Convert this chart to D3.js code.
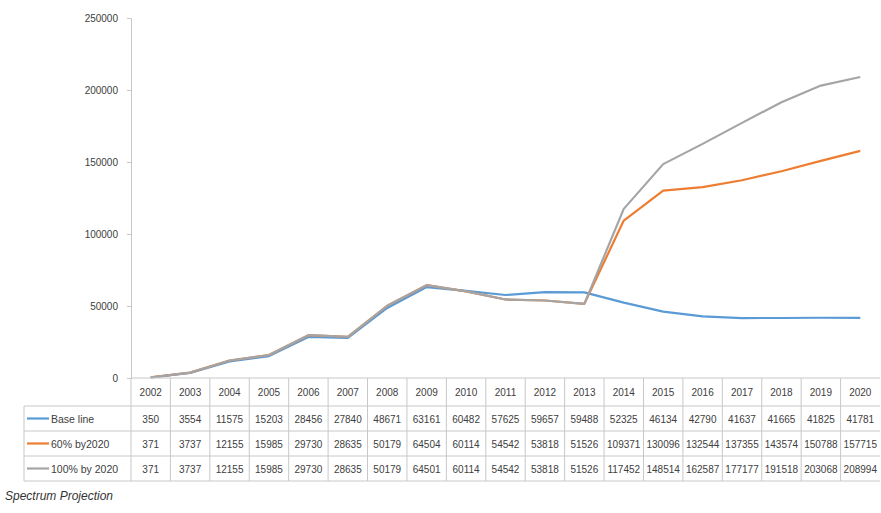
<!DOCTYPE html>
<html>
<head>
<meta charset="utf-8">
<script src="https://cdn.jsdelivr.net/npm/d3@7"></script>
<style>
  html, body { margin: 0; padding: 0; background: #fff; }
  svg { display: block; }
  text { font-family: "Liberation Sans", Arial, sans-serif; }
</style>
</head>
<body>
<svg id="chart" width="881" height="513"></svg>
<script>
const years = [2002, 2003, 2004, 2005, 2006, 2007, 2008, 2009, 2010, 2011, 2012, 2013, 2014, 2015, 2016, 2017, 2018, 2019, 2020];
const baseline = [350, 3554, 11575, 15203, 28456, 27840, 48671, 63161, 60482, 57625, 59657, 59488, 52325, 46134, 42790, 41637, 41665, 41825, 41781];
const pct60 = [371, 3737, 12155, 15985, 29730, 28635, 50179, 64504, 60114, 54542, 53818, 51526, 109371, 130096, 132544, 137355, 143574, 150788, 157715];
const pct100 = [371, 3737, 12155, 15985, 29730, 28635, 50179, 64501, 60114, 54542, 53818, 51526, 117452, 148514, 162587, 177177, 191518, 203068, 208994];
const seriesNames = ["Base line", "60% by2020", "100% by 2020"];
const seriesColors = ["#5b9bd5", "#ed7d31", "#a5a5a5"];
const yTicks = [0, 50000, 100000, 150000, 200000, 250000];
const caption = "Spectrum Projection";

const series = [baseline, pct60, pct100].map((vals, i) => ({
  name: seriesNames[i], color: seriesColors[i], values: vals
}));

const svg = d3.select("#chart");
const plotLeft = 131, plotRight = 880, plotTop = 18, plotBottom = 378;
const tableLeft = 24;
const rowH = 25;
const headerBottom = 406;

const x = d3.scaleBand().domain(years).range([plotLeft, plotRight]).padding(0);
const xc = d => x(d) + x.bandwidth() / 2;
const y = d3.scaleLinear().domain([0, 250000]).range([plotBottom, plotTop]);

const gridColor = "#c8c8c8";
const textColor = "#404040";

// Y axis
const yAxis = d3.axisLeft(y).tickValues(yTicks).tickSize(4).tickPadding(9).tickFormat(d3.format("d"));
const gy = svg.append("g").attr("transform", `translate(${plotLeft},0)`).call(yAxis);
gy.select(".domain").attr("stroke", gridColor);
gy.selectAll(".tick line").attr("stroke", gridColor);
gy.selectAll(".tick text").attr("fill", textColor).style("font-size", "10px");

// Lines: series order, later series on top
const line = d3.line().x((d, i) => xc(years[i])).y(d => y(d));
series.forEach(s => {
  svg.append("path")
    .datum(s.values)
    .attr("fill", "none")
    .attr("stroke", s.color)
    .attr("stroke-width", 2.2)
    .attr("stroke-linejoin", "round")
    .attr("d", line);
});

// Data table
const tableBottom = headerBottom + rowH * 3;
const tg = svg.append("g");
tg.append("line").attr("x1", plotLeft).attr("x2", plotRight).attr("y1", plotBottom).attr("y2", plotBottom).attr("stroke", gridColor);
for (let r = 0; r <= 3; r++) {
  const yy = headerBottom + r * rowH;
  tg.append("line").attr("x1", tableLeft).attr("x2", plotRight).attr("y1", yy).attr("y2", yy).attr("stroke", gridColor);
}
tg.append("line").attr("x1", tableLeft).attr("x2", tableLeft).attr("y1", headerBottom).attr("y2", tableBottom).attr("stroke", gridColor);
years.forEach(yr => {
  tg.append("line").attr("x1", x(yr)).attr("x2", x(yr)).attr("y1", plotBottom).attr("y2", tableBottom).attr("stroke", gridColor);
});

// header years
tg.selectAll("text.yr").data(years).join("text")
  .attr("class", "yr")
  .attr("x", d => xc(d)).attr("y", (plotBottom + headerBottom) / 2 + 4)
  .attr("text-anchor", "middle").attr("fill", textColor)
  .style("font-size", "10px").text(d => d);

// rows
series.forEach((s, r) => {
  const cy = headerBottom + r * rowH + rowH / 2;
  tg.append("line").attr("x1", tableLeft + 3).attr("x2", tableLeft + 25)
    .attr("y1", cy).attr("y2", cy).attr("stroke", s.color).attr("stroke-width", 2.2);
  tg.append("text").attr("x", tableLeft + 27).attr("y", cy + 4)
    .attr("fill", textColor).style("font-size", "10.5px").text(s.name);
  tg.selectAll(null).data(s.values).join("text")
    .attr("x", (d, i) => xc(years[i])).attr("y", cy + 4)
    .attr("text-anchor", "middle").attr("fill", textColor)
    .style("font-size", "10px").text(d => d);
});

// caption
svg.append("text").attr("x", 5).attr("y", 500)
  .attr("fill", "#333").style("font-size", "12px").style("font-style", "italic")
  .text(caption);
</script>
</body>
</html>
